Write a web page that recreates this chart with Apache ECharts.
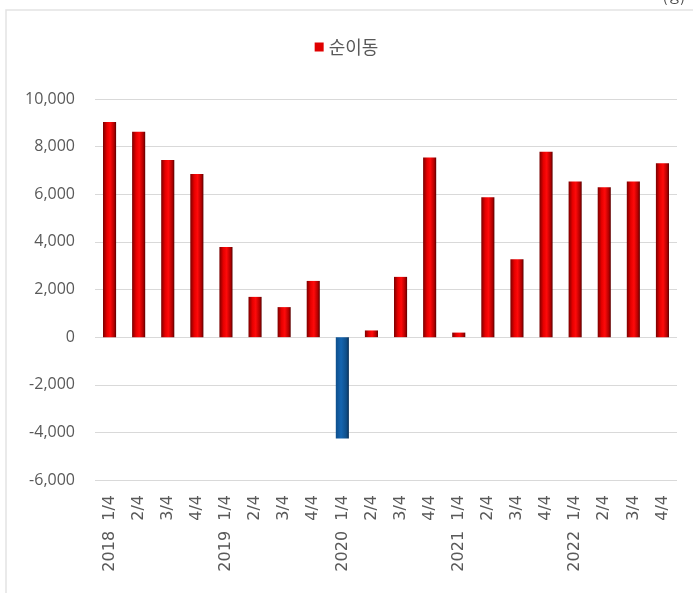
<!DOCTYPE html>
<html>
<head>
<meta charset="utf-8">
<script src="https://cdn.jsdelivr.net/npm/echarts@6/dist/echarts.min.js"></script>
<style>
  html, body { margin: 0; padding: 0; background: #fff; }
  #main { width: 693px; height: 593px; }
</style>
</head>
<body>
<div id="main"></div>
<script>
// 분기별 순이동 (명)
var categories = ['2018 1/4', '2/4', '3/4', '4/4',
                  '2019 1/4', '2/4', '3/4', '4/4',
                  '2020 1/4', '2/4', '3/4', '4/4',
                  '2021 1/4', '2/4', '3/4', '4/4',
                  '2022 1/4', '2/4', '3/4', '4/4'];
var netMove = [9030, 8620, 7440, 6850,
               3790, 1690, 1260, 2360,
               -4260, 280, 2530, 7540,
               190, 5870, 3270, 7790,
               6540, 6290, 6540, 7300];
var seriesName = '순이동';

var redFill = new echarts.graphic.LinearGradient(0, 0, 1, 0, [
  {offset: 0, color: '#7a0000'},
  {offset: 0.3, color: '#e60000'},
  {offset: 0.55, color: '#ff0a0a'},
  {offset: 0.85, color: '#b00000'},
  {offset: 1, color: '#5a0000'}
]);
var blueFill = new echarts.graphic.LinearGradient(0, 0, 1, 0, [
  {offset: 0, color: '#0d4f8c'},
  {offset: 0.4, color: '#1565b0'},
  {offset: 0.8, color: '#0f4f8a'},
  {offset: 1, color: '#0a2f55'}
]);

var chart = echarts.init(document.getElementById('main'));
var option = {
  backgroundColor: '#fff',
  animation: false,
  textStyle: {fontFamily: '"Noto Sans CJK KR", "Noto Sans", sans-serif'},
  graphic: [
    {
      type: 'rect',
      shape: {x: 6, y: 10, width: 700, height: 600},
      style: {fill: 'none', stroke: '#e3e3e3', lineWidth: 1.5}
    },
    {
      type: 'text', right: 8, top: -10,
      style: {text: '(명)', font: '14px "Noto Sans CJK KR"', fill: '#444'}
    }
  ],
  legend: {
    top: 33,
    left: 'center',
    itemWidth: 9,
    itemHeight: 9,
    icon: 'rect',
    itemGap: 4,
    textStyle: {fontSize: 18, color: '#595959', fontFamily: '"Noto Sans CJK KR"'},
    data: [{name: seriesName, itemStyle: {color: '#e00000'}}]
  },
  grid: {left: 95, right: 16, top: 99, bottom: 113},
  xAxis: {
    type: 'category',
    data: categories,
    position: 'bottom',
    axisLine: {show: false, onZero: false},
    axisTick: {show: false},
    axisLabel: {
      rotate: 90,
      interval: 0,
      color: '#595959',
      fontSize: 16,
      fontFamily: '"DejaVu Sans", sans-serif',
      margin: 15,
      formatter: function (s) { return s.replace(' ', '  '); }
    }
  },
  yAxis: {
    type: 'value',
    min: -6000,
    max: 10000,
    interval: 2000,
    axisLine: {show: false},
    axisTick: {show: false},
    splitLine: {lineStyle: {color: '#d9d9d9', width: 1}},
    axisLabel: {
      color: '#595959',
      fontSize: 16,
      margin: 20,
      fontFamily: '"Open Sans", sans-serif',
      formatter: function (v) { return v.toLocaleString('en-US'); }
    }
  },
  series: [{
    name: seriesName,
    type: 'bar',
    barWidth: '45%',
    data: netMove.map(function (v) {
      return {value: v, itemStyle: {color: v < 0 ? blueFill : redFill}};
    })
  }]
};
chart.setOption(option);
</script>
</body>
</html>
